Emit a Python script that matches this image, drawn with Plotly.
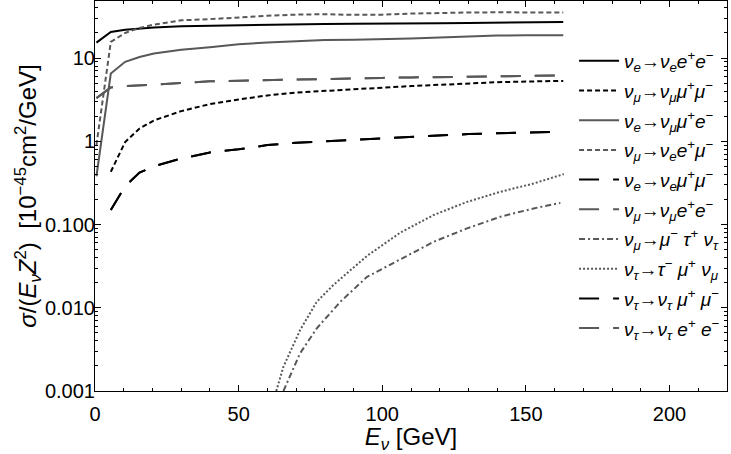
import plotly.graph_objects as go

# energy grid (GeV) for the main channels
E_main = [0.5, 5.5, 10.5, 15.5, 20.5, 30, 40, 50, 60, 70, 80, 90, 100, 110, 120, 130, 140, 150, 163]
E_late = E_main[1:]

ee_ee = [15.3, 20.6, 21.8, 22.7, 23.2, 24.1, 24.5, 24.9, 25.3, 25.5, 25.7, 25.8, 25.8, 26.0, 26.2, 26.4, 26.6, 26.8, 27.1]
mm_mm = [0.43, 0.98, 1.42, 1.78, 2.3, 2.8, 3.18, 3.55, 3.85, 4.05, 4.22, 4.4, 4.6, 4.8, 5.0, 5.12, 5.22, 5.31]
em_me = [0.38, 6.5, 9.0, 10.3, 11.3, 12.6, 13.5, 14.6, 15.4, 16.0, 16.5, 16.6, 16.8, 17.2, 17.7, 18.2, 18.6, 18.8, 18.8]
me_em = [0.9, 15.6, 20.0, 23.0, 25.2, 28.4, 29.3, 30.8, 32.2, 33.2, 33.6, 33.0, 33.2, 34.2, 35.0, 35.2, 35.4, 35.2, 35.2]
ee_mm = [0.149, 0.29, 0.42, 0.5, 0.62, 0.735, 0.8, 0.9, 0.96, 1.0, 1.05, 1.1, 1.14, 1.18, 1.22, 1.25, 1.28, 1.30]
mm_ee = [3.3, 4.42, 4.6, 4.72, 4.82, 5.0, 5.25, 5.35, 5.45, 5.55, 5.62, 5.7, 5.77, 5.85, 5.92, 6.0, 6.05, 6.1, 6.17]

# tau channels (threshold ~ 63 GeV)
E_mt = [65.6, 71.4, 77.2, 85.4, 94.7, 106.3, 117.9, 129.5, 141.1, 152.7, 162.0]
mu_tau = [0.001, 0.00284, 0.00566, 0.0118, 0.0235, 0.038, 0.062, 0.0898, 0.124, 0.156, 0.182]
E_tm = [63.1, 65.6, 71.4, 77.2, 83.0, 94.7, 106.3, 117.9, 129.5, 141.1, 152.7, 163.2]
tau_mu = [0.001, 0.00196, 0.0054, 0.0118, 0.0188, 0.042, 0.08, 0.130, 0.187, 0.247, 0.311, 0.403]

ytick_vals = [0.001, 0.01, 0.1, 1, 10]
ytick_text = ["0.001", "0.010", "0.100", "1", "10"]

BLACK = "#000000"
GRAY = "#585858"
LONG = "20px,14px"
SHORT = "5px,3px"

def nu(f):
    return "<i>ν</i><sub><i>%s</i></sub>" % f

series = [
    (E_main, ee_ee, nu("e") + "→" + nu("e") + "<i>e</i><sup>+</sup><i>e</i><sup>−</sup>", BLACK, "solid"),
    (E_late, mm_mm, nu("μ") + "→" + nu("μ") + "<i>μ</i><sup>+</sup><i>μ</i><sup>−</sup>", BLACK, SHORT),
    (E_main, em_me, nu("e") + "→" + nu("μ") + "<i>μ</i><sup>+</sup><i>e</i><sup>−</sup>", GRAY, "solid"),
    (E_main, me_em, nu("μ") + "→" + nu("e") + "<i>e</i><sup>+</sup><i>μ</i><sup>−</sup>", GRAY, SHORT),
    (E_late, ee_mm, nu("e") + "→" + nu("e") + "<i>μ</i><sup>+</sup><i>μ</i><sup>−</sup>", BLACK, LONG),
    (E_main, mm_ee, nu("μ") + "→" + nu("μ") + "<i>e</i><sup>+</sup><i>e</i><sup>−</sup>", GRAY, LONG),
    (E_mt, mu_tau, nu("μ") + "→<i>μ</i><sup>−</sup> <i>τ</i><sup>+</sup> " + nu("τ"), GRAY, "6px,3px,2px,3px"),
    (E_tm, tau_mu, nu("τ") + "→<i>τ</i><sup>−</sup> <i>μ</i><sup>+</sup> " + nu("μ"), GRAY, "2px,2px"),
    (E_late, ee_mm, nu("τ") + "→" + nu("τ") + " <i>μ</i><sup>+</sup> <i>μ</i><sup>−</sup>", BLACK, LONG),
    (E_main, mm_ee, nu("τ") + "→" + nu("τ") + " <i>e</i><sup>+</sup> <i>e</i><sup>−</sup>", GRAY, LONG),
]

fig = go.Figure()
for i, (x, y, name, col, dash) in enumerate(series):
    fig.add_trace(go.Scatter(x=x, y=y, mode="lines", name=name, legendgroup="g%d" % i,
                             line=dict(color=col, width=2, dash=dash)))

fig.update_layout(
    width=731, height=454,
    margin=dict(l=95, r=4, t=1, b=63),
    paper_bgcolor="white", plot_bgcolor="white",
    font=dict(family="Liberation Sans, Arial, sans-serif", size=20, color="black"),
    showlegend=True,
    legend=dict(x=0.758, y=0.895, xanchor="left", yanchor="top", bgcolor="rgba(0,0,0,0)",
                font=dict(size=19), tracegroupgap=2, traceorder="grouped", itemwidth=40),
)
fig.update_xaxes(range=[0, 220], dtick=50, ticks="inside", ticklen=6, tickcolor="black",
                 showline=True, linecolor="black", linewidth=1, mirror="ticks",
                 showgrid=False, zeroline=False, automargin=False, ticklabelstandoff=5,
                 minor=dict(dtick=10, ticks="inside", ticklen=3, tickcolor="black"),
                 title=dict(text="<i>E</i><sub><i>ν</i></sub> [GeV]", standoff=4))
fig.update_yaxes(type="log", range=[-3, 1.685], tickvals=ytick_vals, ticktext=ytick_text,
                 ticks="inside", ticklen=6, tickcolor="black",
                 showline=True, linecolor="black", linewidth=1, mirror="ticks",
                 showgrid=False, zeroline=False, automargin=False, ticklabelstandoff=-5,
                 minor=dict(dtick="D1", ticks="inside", ticklen=3, tickcolor="black"),
                 title=dict(text="<i>σ</i>/(<i>E</i><sub><i>ν</i></sub><i>Z</i><sup>2</sup>)  [10<sup>−45</sup>cm<sup>2</sup>/GeV]",
                            standoff=1))

# page body has a default 8px margin; drop it so the figure fills the window
fig.write_html("out.html", config={"displayModeBar": False},
               post_script="document.body.style.margin='0';")
